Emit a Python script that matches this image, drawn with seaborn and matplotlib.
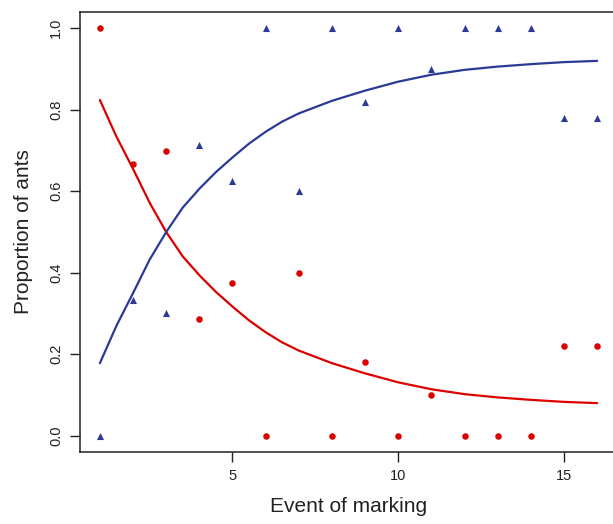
import numpy as np
import pandas as pd
import matplotlib
matplotlib.use('Agg')
import matplotlib.pyplot as plt
import seaborn as sns

# observed proportions per marking event
events = [1, 2, 3, 4, 5, 6, 7, 8, 9, 10, 11, 12, 13, 14, 15, 16]
red_prop = [1.0, 0.667, 0.70, 0.286, 0.375, 0.0, 0.40, 0.0, 0.18, 0.0, 0.10, 0.0, 0.0, 0.0, 0.22, 0.22]
blue_prop = [0.0, 0.333, 0.30, 0.714, 0.625, 1.0, 0.60, 1.0, 0.82, 1.0, 0.90, 1.0, 1.0, 1.0, 0.78, 0.78]

# fitted curves
curve_x = [1, 1.5, 2, 2.5, 3, 3.5, 4, 4.5, 5, 5.5, 6, 6.5, 7, 8, 9, 10, 11, 12, 13, 14, 15, 16]
red_fit = [0.824, 0.734, 0.655, 0.572, 0.500, 0.440, 0.394, 0.353, 0.317, 0.283, 0.254,
           0.229, 0.209, 0.178, 0.153, 0.131, 0.114, 0.102, 0.094, 0.088, 0.083, 0.080]
blue_fit = [0.178, 0.270, 0.350, 0.432, 0.500, 0.560, 0.606, 0.647, 0.683, 0.717, 0.746,
            0.771, 0.791, 0.822, 0.847, 0.869, 0.886, 0.898, 0.906, 0.912, 0.917, 0.920]

RED = '#dd0000'
BLUE = '#2b3a96'

sns.set_style('ticks')
plt.rcParams['font.family'] = ['Liberation Sans', 'DejaVu Sans']

pts = pd.DataFrame({'event': events * 2,
                    'prop': red_prop + blue_prop,
                    'group': ['red'] * len(events) + ['blue'] * len(events)})
fits = pd.DataFrame({'event': curve_x * 2,
                     'prop': red_fit + blue_fit,
                     'group': ['red'] * len(curve_x) + ['blue'] * len(curve_x)})

fig = plt.figure(figsize=(6.13, 5.24), dpi=100)
ax = fig.add_axes([80 / 613, 1 - 452 / 524, 537 / 613, 440 / 524])

pal = {'red': RED, 'blue': BLUE}
sns.lineplot(data=fits, x='event', y='prop', hue='group', palette=pal,
             linewidth=1.6, legend=False, ax=ax)
sns.scatterplot(data=pts[pts.group == 'red'], x='event', y='prop', color=RED,
                marker='o', s=22, linewidth=0, ax=ax, legend=False)
sns.scatterplot(data=pts[pts.group == 'blue'], x='event', y='prop', color=BLUE,
                marker='^', s=26, linewidth=0, ax=ax, legend=False)

ax.set_xlim(0.4, 16.6)
ax.set_ylim(-0.04, 1.04)
ax.set_xticks([5, 10, 15])
ax.set_yticks([0.0, 0.2, 0.4, 0.6, 0.8, 1.0])
ax.set_yticklabels(['0.0', '0.2', '0.4', '0.6', '0.8', '1.0'], rotation=90, va='center')
ax.tick_params(axis='both', direction='out', length=7, width=1, colors='#222222',
               labelsize=10.5, pad=5)
for s in ax.spines.values():
    s.set_color('#222222')
    s.set_linewidth(1.1)

ax.set_xlabel('Event of marking', fontsize=15, color='#222222', labelpad=10)
ax.set_ylabel('Proportion of ants', fontsize=15, color='#222222', labelpad=12)

fig.savefig('out.png', dpi=100)
